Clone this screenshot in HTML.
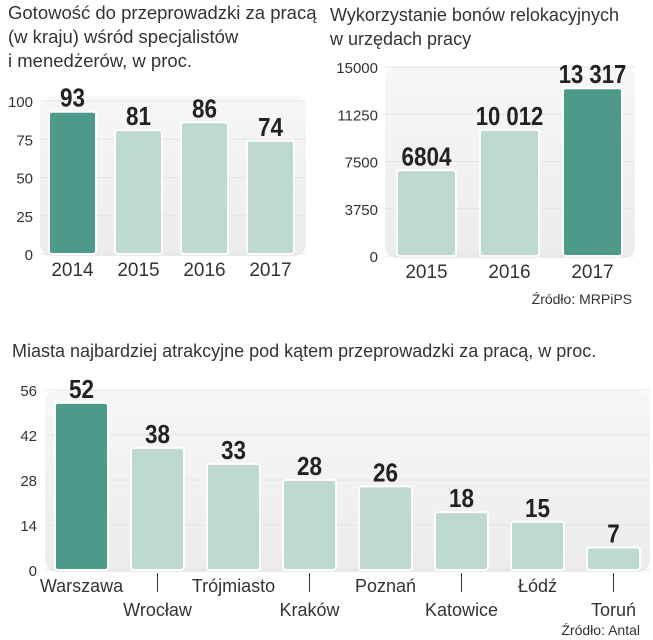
<!DOCTYPE html>
<html><head><meta charset="utf-8"><style>
body{margin:0;background:#fff;width:653px;height:640px;overflow:hidden}
svg{display:block}
text{font-family:"Liberation Sans",sans-serif;fill:#333}
.v{font-family:"Liberation Sans Narrow","Liberation Sans",sans-serif;font-weight:bold;fill:#222}
</style></head><body>
<svg id="c" width="653" height="640">
<defs>
<linearGradient id="pg" x1="0" y1="0" x2="0" y2="1"><stop offset="0" stop-color="#f7f7f7"/><stop offset="1" stop-color="#ececec"/></linearGradient>
</defs>
<g font-size="18.5">
<text x="8" y="19">Gotowość do przeprowadzki za pracą</text>
<text x="8" y="43">(w kraju) wśród specjalistów</text>
<text x="8" y="67">i menedżerów, w proc.</text>
</g>
<g font-size="18">
<text x="330" y="21">Wykorzystanie bonów relokacyjnych</text>
<text x="330" y="45">w urzędach pracy</text>
</g>
<text x="632" y="304" font-size="14" text-anchor="end">Źródło: MRPiPS</text>
<text x="12" y="357" font-size="18">Miasta najbardziej atrakcyjne pod kątem przeprowadzki za pracą, w proc.</text>
<text x="640" y="635" font-size="14" text-anchor="end">Źródło: Antal</text>
<g id="g1"></g><g id="g2"></g><g id="g3"></g>
</svg>
<script>
const c1Cats=["2014","2015","2016","2017"];
const c1Vals=[93,81,86,74];
const c1Ticks=[0,25,50,75,100];
const c2Cats=["2015","2016","2017"];
const c2Vals=[6804,10012,13317];
const c2Labels=["6804","10 012","13 317"];
const c2Ticks=[0,3750,7500,11250,15000];
const c3Cats=["Warszawa","Wrocław","Trójmiasto","Kraków","Poznań","Katowice","Łódź","Toruń"];
const c3Vals=[52,38,33,28,26,18,15,7];
const c3Ticks=[0,14,28,42,56];
const NS="http://www.w3.org/2000/svg";
function mk(p,tag,a,t){const e=document.createElementNS(NS,tag);for(const k in a)e.setAttribute(k,a[k]);if(t!==undefined)e.textContent=t;p.appendChild(e);return e;}
function chart(g,o){
  const y=v=>o.y0-(v/o.max)*(o.y0-o.yTop);
  const p=mk(g,'rect',{x:o.px,y:o.py,width:o.pw,height:o.y0-o.py+2,rx:12,fill:'url(#pg)'});
  
  
  o.ticks.forEach(t=>{
    const l=mk(g,'line',{x1:o.px,x2:o.px+o.pw,y1:y(t),y2:y(t),stroke:'#e4e4e4','stroke-width':1});
    
    
    const tx=mk(g,'text',{x:o.tickX,y:y(t)+6,'font-size':15,'text-anchor':'end',fill:'#444'},String(t));
    
    
  });
  o.cats.forEach((c,i)=>{
    const x=o.x0+i*o.step, v=o.vals[i];
    const r=mk(g,'rect',{x:x,y:y(v),width:o.bw,height:o.y0-y(v),rx:3,fill:i===o.hi?'#4d9a8b':'#bdd9d1',stroke:'#fdfdfd','stroke-width':2});
    
    
    const s=o.labels?o.labels[i]:String(v);
    const digits=s.replace(/ /g,'').length, sp=s.length-digits;
    const vt=mk(g,'text',{x:x+o.bw/2,y:y(v)-5,'font-size':o.vfs,'text-anchor':'middle',class:'v',textLength:digits*12.5+sp*5,lengthAdjust:'spacingAndGlyphs'},s);
    
    
    let ly=o.y0+22;
    if(o.alt&&i%2===1){ly=o.y0+46;
      const tk=mk(g,'line',{x1:x+o.bw/2,x2:x+o.bw/2,y1:o.y0+3,y2:o.y0+22,stroke:'#333','stroke-width':1});
      
      }
    const ct=mk(g,'text',{x:x+o.bw/2,y:ly,'font-size':o.cfs,'text-anchor':'middle'},c);
    
    
  });
}
chart(document.getElementById('g1'),{cats:c1Cats,vals:c1Vals,ticks:c1Ticks,max:100,y0:254,yTop:101,px:40,py:96,pw:266,tickX:33,x0:49,step:66,bw:47,hi:0,vfs:26,cfs:19});
chart(document.getElementById('g2'),{cats:c2Cats,vals:c2Vals,labels:c2Labels,ticks:c2Ticks,max:15000,y0:256,yTop:67,px:385,py:67,pw:250,tickX:378,x0:397,step:83,bw:59,hi:2,vfs:26,cfs:19});
chart(document.getElementById('g3'),{cats:c3Cats,vals:c3Vals,ticks:c3Ticks,max:56,y0:570,yTop:390,px:45,py:390,pw:605,tickX:37,x0:55,step:76,bw:53,hi:0,vfs:26,cfs:18,alt:true});
</script>
</body></html>
